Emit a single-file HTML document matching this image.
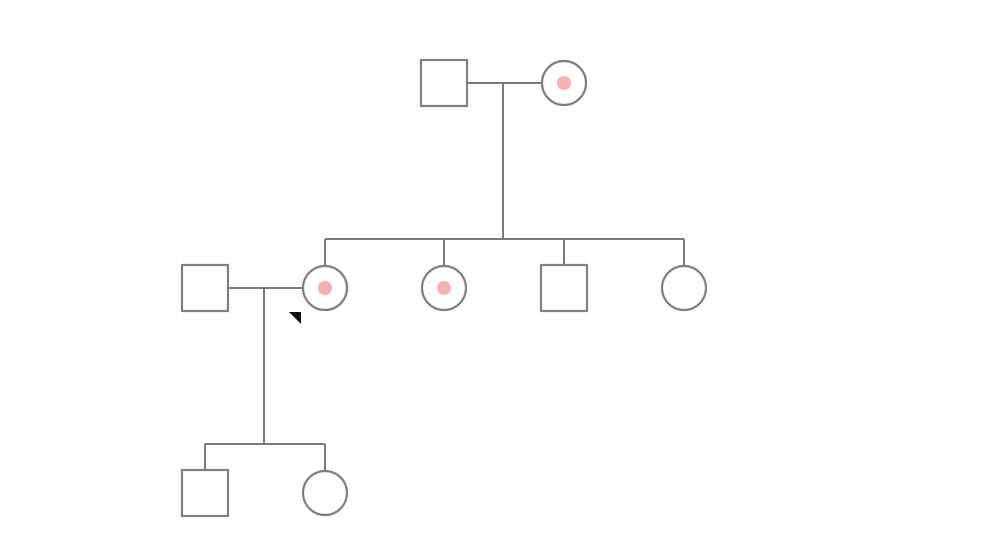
<!DOCTYPE html>
<html><head><style>body{margin:0;background:#fff}</style></head><body>
<svg width="986" height="555" xmlns="http://www.w3.org/2000/svg">
<g stroke="#7a7a7a" stroke-width="2" fill="none">
<path d="M467 83H542M503 83V239M325 239H684M325 239V266M444 239V266M564 239V265M684 239V266"/>
<path d="M228 288H303M264 288V444M205 444H325M205 444V470M325 444V471"/>
</g>
<g stroke="#808080" stroke-width="2.2" fill="#fff">
<rect x="421" y="60" width="46" height="46"/>
<circle cx="564" cy="83" r="22"/>
<rect x="182" y="265" width="46" height="46"/>
<circle cx="325" cy="288" r="22"/>
<circle cx="444" cy="288" r="22"/>
<rect x="541" y="265" width="46" height="46"/>
<circle cx="684" cy="288" r="22"/>
<rect x="182" y="470" width="46" height="46"/>
<circle cx="325" cy="493" r="22"/>
</g>
<g fill="#f8b0b0">
<circle cx="564" cy="83" r="7"/>
<circle cx="325" cy="288" r="7"/>
<circle cx="444" cy="288" r="7"/>
</g>
<path d="M289 312L301 312L301 324Z" fill="#111"/>
</svg>
</body></html>
